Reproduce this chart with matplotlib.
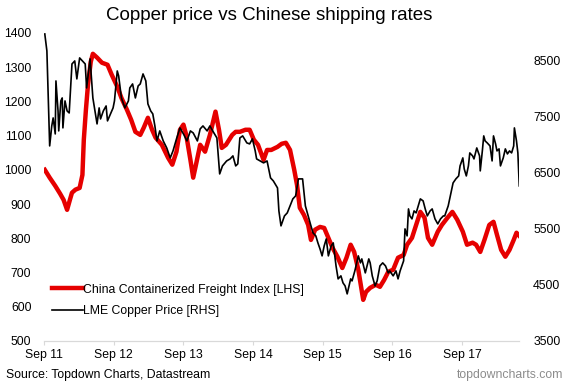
import matplotlib.pyplot as plt
from matplotlib.lines import Line2D

plt.rcParams['font.family'] = ['Liberation Sans', 'DejaVu Sans']

# China Containerized Freight Index (LHS) - decimal year, index value
ccfi_t = [2011.68, 2011.75, 2011.83, 2011.90, 2011.95, 2012.00, 2012.04, 2012.07, 2012.12, 2012.18,
          2012.22, 2012.24, 2012.27, 2012.30, 2012.34, 2012.37, 2012.43, 2012.50, 2012.58, 2012.64,
          2012.72, 2012.78, 2012.86, 2012.92, 2012.98, 2013.05, 2013.10, 2013.16, 2013.22, 2013.27,
          2013.36, 2013.45, 2013.51, 2013.57, 2013.62, 2013.67, 2013.71, 2013.77, 2013.81, 2013.85,
          2013.91, 2013.98, 2014.05, 2014.13, 2014.18, 2014.22, 2014.28, 2014.37, 2014.42, 2014.48,
          2014.56, 2014.62, 2014.68, 2014.74, 2014.82, 2014.87, 2014.93, 2015.02, 2015.08, 2015.14,
          2015.20, 2015.26, 2015.30, 2015.34, 2015.40, 2015.46, 2015.50, 2015.56, 2015.63, 2015.69,
          2015.75, 2015.81, 2015.88, 2015.95, 2016.01, 2016.07, 2016.12, 2016.18, 2016.25, 2016.29,
          2016.35, 2016.43, 2016.49, 2016.55, 2016.61, 2016.68, 2016.75, 2016.83, 2016.88, 2016.95,
          2017.01, 2017.07, 2017.13, 2017.18, 2017.24, 2017.32, 2017.38, 2017.46, 2017.53, 2017.60,
          2017.68, 2017.74, 2017.82, 2017.87, 2017.93, 2017.99, 2018.06, 2018.12, 2018.17, 2018.23,
          2018.29, 2018.35, 2018.41, 2018.45, 2018.49]
ccfi = [1000, 977, 953, 930, 912, 883, 912, 933, 942, 947,
        985, 1088, 1175, 1249, 1316, 1339, 1328, 1313, 1307, 1278,
        1243, 1210, 1175, 1146, 1111, 1102, 1123, 1152, 1117, 1094,
        1073, 1035, 1015, 1053, 1117, 1132, 1102, 1029, 977, 1015,
        1073, 1053, 1102, 1170, 1117, 1064, 1073, 1102, 1111, 1111,
        1117, 1117, 1088, 1073, 1029, 1058, 1058, 1067, 1076, 1079,
        1058, 1000, 956, 889, 868, 839, 795, 825, 833, 830,
        801, 772, 746, 713, 743, 781, 760, 708, 620, 643,
        655, 664, 658, 678, 702, 708, 743, 751, 781, 801,
        839, 877, 860, 801, 781, 819, 839, 860, 877, 854,
        819, 781, 787, 781, 760, 795, 839, 848, 810, 766,
        746, 766, 795, 816, 807]

# LME Copper Price (RHS) - decimal year, USD/t
cu_t = [2011.68, 2011.71, 2011.75, 2011.78, 2011.80, 2011.83, 2011.84, 2011.87, 2011.88, 2011.91,
        2011.93, 2011.94, 2011.97, 2012.00, 2012.03, 2012.04, 2012.07, 2012.11, 2012.14, 2012.17,
        2012.18, 2012.22, 2012.26, 2012.28, 2012.33, 2012.37, 2012.40, 2012.43, 2012.46, 2012.48,
        2012.52, 2012.56, 2012.58, 2012.63, 2012.66, 2012.68, 2012.72, 2012.74, 2012.78, 2012.83,
        2012.88, 2012.90, 2012.94, 2012.98, 2013.02, 2013.05, 2013.09, 2013.13, 2013.16, 2013.20,
        2013.23, 2013.26, 2013.29, 2013.33, 2013.38, 2013.43, 2013.48, 2013.52, 2013.57, 2013.62,
        2013.67, 2013.72, 2013.77, 2013.81, 2013.87, 2013.91, 2013.95, 2014.01, 2014.05, 2014.09,
        2014.15, 2014.19, 2014.23, 2014.29, 2014.34, 2014.38, 2014.42, 2014.45, 2014.48, 2014.52,
        2014.58, 2014.62, 2014.66, 2014.70, 2014.72, 2014.77, 2014.82, 2014.87, 2014.92, 2014.96,
        2015.02, 2015.04, 2015.07, 2015.12, 2015.16, 2015.20, 2015.24, 2015.28, 2015.32, 2015.38,
        2015.42, 2015.46, 2015.50, 2015.53, 2015.57, 2015.60, 2015.63, 2015.66, 2015.69, 2015.72,
        2015.75, 2015.79, 2015.82, 2015.86, 2015.89, 2015.93, 2015.96, 2015.99, 2016.02, 2016.07,
        2016.09, 2016.13, 2016.18, 2016.21, 2016.23, 2016.28, 2016.33, 2016.35, 2016.38, 2016.42,
        2016.45, 2016.49, 2016.53, 2016.57, 2016.61, 2016.63, 2016.68, 2016.72, 2016.75, 2016.78,
        2016.83, 2016.85, 2016.88, 2016.90, 2016.92, 2016.95, 2016.98, 2017.01, 2017.04, 2017.07,
        2017.11, 2017.14, 2017.17, 2017.21, 2017.24, 2017.28, 2017.32, 2017.36, 2017.40, 2017.42,
        2017.47, 2017.50, 2017.54, 2017.58, 2017.62, 2017.64, 2017.68, 2017.70, 2017.73, 2017.76,
        2017.78, 2017.82, 2017.84, 2017.88, 2017.92, 2017.93, 2017.96, 2017.98, 2018.00, 2018.03,
        2018.07, 2018.10, 2018.12, 2018.15, 2018.17, 2018.20, 2018.22, 2018.26, 2018.29, 2018.32,
        2018.35, 2018.38, 2018.41, 2018.42, 2018.45, 2018.47, 2018.49]
cu = [8982, 8679, 6982, 7339, 7482, 7196, 8143, 7607, 7250, 7786,
      7839, 7304, 7786, 7607, 7571, 7786, 8446, 8500, 8179, 8464,
      8554, 8500, 8446, 8018, 8536, 7839, 7607, 7375, 7661, 7464,
      7607, 7696, 7429, 7571, 7661, 7786, 8321, 8232, 7839, 7661,
      7786, 8018, 8089, 7839, 8054, 8089, 8268, 8143, 7732, 7607,
      7554, 7339, 7071, 7250, 7071, 6946, 6768, 6893, 7107, 7304,
      7196, 7071, 7250, 7214, 7071, 7286, 7339, 7250, 7339, 7250,
      7125, 6482, 6625, 6714, 6750, 6804, 6625, 6661, 7125, 7161,
      7036, 7018, 7107, 6893, 6750, 6714, 6679, 6714, 6411, 6357,
      6232, 5821, 5554, 5732, 5786, 5911, 6036, 6089, 6393, 6393,
      5911, 5732, 5554, 5429, 5375, 5250, 5143, 5018, 5196, 5321,
      5018, 5196, 5250, 4839, 4607, 4661, 4536, 4482, 4339, 4607,
      4571, 4750, 5018, 4893, 4964, 4714, 4964, 4893, 4661, 4482,
      4571, 4839, 4893, 4839, 4714, 4750, 4661, 4750, 4607, 4750,
      4929, 5500, 5375, 5857, 5732, 5679, 5821, 5786, 5911, 6036,
      6000, 5857, 5732, 5821, 5857, 5679, 5589, 5679, 5732, 5732,
      5911, 6089, 6321, 6393, 6446, 6625, 6768, 6571, 6446, 6625,
      6857, 6804, 6750, 6946, 6804, 6536, 6893, 7161, 7071, 7036,
      6982, 6714, 7161, 7018, 6893, 6929, 6625, 6768, 6929, 6839,
      6893, 6857, 6982, 7304, 7071, 6857, 6268]

year_ticks = [2011.667, 2012.667, 2013.667, 2014.667, 2015.667, 2016.667, 2017.667]
year_labels = ['Sep 11', 'Sep 12', 'Sep 13', 'Sep 14', 'Sep 15', 'Sep 16', 'Sep 17']

red = '#e60000'
fs = 8.8

fig = plt.figure(figsize=(5.7, 3.83), dpi=100)
ax = fig.add_axes([0.077, 0.110, 0.834, 0.804])
ax2 = ax.twinx()

ax.plot(ccfi_t, ccfi, color=red, lw=3.2, solid_joinstyle='round')
ax2.plot(cu_t, cu, color='black', lw=1.2)

ax.set_xlim(2011.667, 2018.49)
ax.set_ylim(500, 1400)
ax2.set_ylim(3500, 9000)
ax.set_yticks(range(500, 1401, 100))
ax2.set_yticks(range(3500, 8501, 1000))
ax.set_xticks(year_ticks)
ax.set_xticklabels(year_labels)

for a in (ax, ax2):
    for s in ('top', 'left', 'right'):
        a.spines[s].set_visible(False)
    a.spines['bottom'].set_color('#d9d9d9')
    a.tick_params(axis='y', length=0, labelsize=fs)
ax.tick_params(axis='y', pad=9)
ax2.tick_params(axis='y', pad=10)
ax.tick_params(axis='x', length=3, color='#d9d9d9', labelsize=fs, pad=3)

handles = [Line2D([], [], color=red, lw=3.2),
           Line2D([], [], color='black', lw=1.2)]
ax2.legend(handles, ['China Containerized Freight Index [LHS]', 'LME Copper Price [RHS]'],
           loc='lower left', bbox_to_anchor=(0.0, 0.05), frameon=False, fontsize=fs,
           handlelength=2.5, handletextpad=0.0, labelspacing=0.75, borderpad=0.2)

fig.text(0.472, 0.96, 'Copper price vs Chinese shipping rates', ha='center', va='center', fontsize=13.5)
fig.text(0.01, 0.022, 'Source: Topdown Charts, Datastream', ha='left', va='center', fontsize=fs)
fig.text(0.988, 0.022, 'topdowncharts.com', ha='right', va='center', fontsize=fs, color='#8c8c8c')

plt.savefig('out.png', dpi=100)
